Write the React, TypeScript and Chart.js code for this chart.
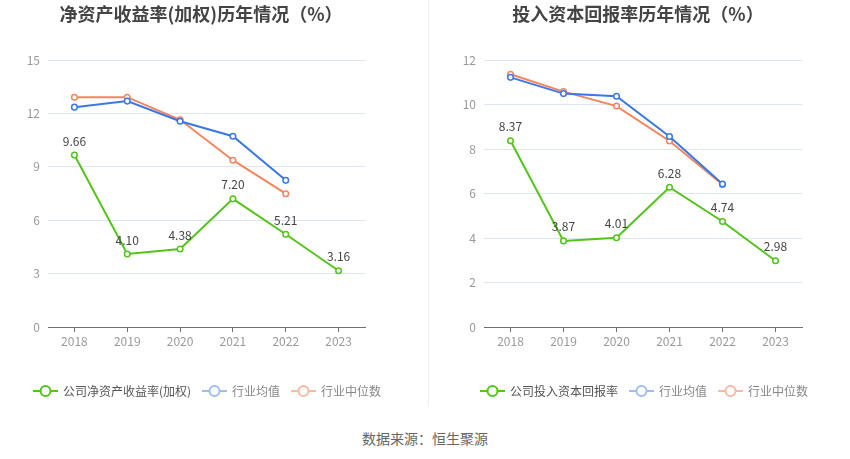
import React, { useEffect, useRef } from "react";
import { Chart, registerables } from "chart.js";

Chart.register(...registerables);

const years = ["2018", "2019", "2020", "2021", "2022", "2023"];

const roeCompany = [9.66, 4.1, 4.38, 7.2, 5.21, 3.16];
const roeIndustryMean = [12.35, 12.69, 11.56, 10.72, 8.24, null];
const roeIndustryMedian = [12.91, 12.91, 11.64, 9.37, 7.49, null];

const roicCompany = [8.37, 3.87, 4.01, 6.28, 4.74, 2.98];
const roicIndustryMean = [11.22, 10.49, 10.37, 8.56, 6.43, null];
const roicIndustryMedian = [11.36, 10.58, 9.93, 8.36, 6.4, null];

const roeLegend = ["公司净资产收益率(加权)", "行业均值", "行业中位数"];
const roicLegend = ["公司投入资本回报率", "行业均值", "行业中位数"];

const GREEN = "#52c41a";
const BLUE = "#3a78e6";
const ORANGE = "#f7845c";
const BLUE_LIGHT = "#9dbdf5";
const ORANGE_LIGHT = "#fbb9a0";
const FONT = "'Noto Sans CJK SC', 'Noto Sans', sans-serif";

const W = 425;
const H = 410;

type Cfg = {
  title: string;
  titleX: number;
  areaLeft: number;
  areaRight: number;
  yMax: number;
  yStep: number;
  company: (number | null)[];
  mean: (number | null)[];
  median: (number | null)[];
  legend: string[];
  legendX: number[];
};

function ChartPanel({ cfg }: { cfg: Cfg }) {
  const ref = useRef<HTMLCanvasElement | null>(null);
  useEffect(() => {
    if (!ref.current) return;
    const overlay = {
      id: "overlay",
      afterDraw(chart: any) {
        const ctx = chart.ctx as CanvasRenderingContext2D;
        ctx.save();
        // title
        ctx.font = `bold 18px ${FONT}`;
        ctx.fillStyle = "#444";
        ctx.textAlign = "center";
        ctx.textBaseline = "middle";
        ctx.fillText(cfg.title, cfg.titleX, 14);
        // data labels for company series
        const meta = chart.getDatasetMeta(0);
        ctx.font = `12px ${FONT}`;
        ctx.fillStyle = "#444";
        meta.data.forEach((pt: any, i: number) => {
          const v = cfg.company[i];
          if (v == null) return;
          ctx.fillText(v.toFixed(2), pt.x, pt.y - 14);
        });
        // legend
        const colors = [GREEN, BLUE_LIGHT, ORANGE_LIGHT];
        const textColors = ["#555", "#888", "#888"];
        const ly = 391;
        cfg.legend.forEach((label, i) => {
          const x = cfg.legendX[i];
          ctx.strokeStyle = colors[i];
          ctx.lineWidth = 2;
          ctx.beginPath();
          ctx.moveTo(x, ly);
          ctx.lineTo(x + 25, ly);
          ctx.stroke();
          ctx.beginPath();
          ctx.arc(x + 12.5, ly, 5, 0, Math.PI * 2);
          ctx.fillStyle = "#fff";
          ctx.fill();
          ctx.stroke();
          ctx.font = `12px ${FONT}`;
          ctx.fillStyle = textColors[i];
          ctx.textAlign = "left";
          ctx.textBaseline = "middle";
          ctx.fillText(label, x + 30, ly);
        });
        ctx.restore();
      },
    };
    const mk = (data: (number | null)[], color: string) => ({
      data,
      borderColor: color,
      backgroundColor: "#fff",
      pointBackgroundColor: "#fff",
      pointBorderColor: color,
      pointBorderWidth: 1.5,
      pointRadius: 2.8,
      borderWidth: 2,
      tension: 0,
      spanGaps: false,
    });
    const chart = new Chart(ref.current, {
      type: "line",
      data: {
        labels: years,
        datasets: [mk(cfg.company, GREEN), mk(cfg.mean, BLUE), mk(cfg.median, ORANGE)],
      },
      options: {
        animation: false,
        responsive: false,
        devicePixelRatio: 1,
        layout: {
          padding: { left: 0, right: W - cfg.areaRight, top: 60, bottom: H - 327 - 30 },
        },
        plugins: {
          legend: { display: false },
          title: { display: false },
          tooltip: { enabled: false },
        },
        scales: {
          x: {
            offset: true,
            afterFit: (s: any) => {
              s.height = 30;
            },
            grid: {
              drawOnChartArea: false,
              drawTicks: true,
              tickLength: 5,
              color: "#6e7079",
              offset: false,
            },
            border: { display: true, color: "#6e7079", width: 1 },
            ticks: { color: "#999", font: { size: 12, family: FONT }, padding: 2 },
          },
          y: {
            min: 0,
            max: cfg.yMax,
            afterFit: (s: any) => {
              s.width = cfg.areaLeft;
            },
            ticks: {
              stepSize: cfg.yStep,
              color: "#999",
              font: { size: 12, family: FONT },
              padding: 8,
            },
            grid: { color: "#e0e6f1", drawTicks: false },
            border: { display: false },
          },
        },
      },
      plugins: [overlay],
    });
    return () => chart.destroy();
  }, [cfg]);
  return <canvas ref={ref} width={W} height={H} style={{ width: W, height: H, display: "block" }} />;
}

const leftCfg: Cfg = {
  title: "净资产收益率(加权)历年情况（%）",
  titleX: 201,
  areaLeft: 48,
  areaRight: 365,
  yMax: 15,
  yStep: 3,
  company: roeCompany,
  mean: roeIndustryMean,
  median: roeIndustryMedian,
  legend: roeLegend,
  legendX: [33, 202, 291],
};

const rightCfg: Cfg = {
  title: "投入资本回报率历年情况（%）",
  titleX: 213,
  areaLeft: 59,
  areaRight: 377,
  yMax: 12,
  yStep: 2,
  company: roicCompany,
  mean: roicIndustryMean,
  median: roicIndustryMedian,
  legend: roicLegend,
  legendX: [55, 204, 293],
};

export default function App() {
  return (
    <div
      style={{
        position: "fixed",
        left: 0,
        top: 0,
        width: 850,
        height: 459,
        background: "#fff",
        overflow: "hidden",
      }}
    >
      <div style={{ position: "absolute", left: 0, top: 0 }}>
        <ChartPanel cfg={leftCfg} />
      </div>
      <div style={{ position: "absolute", left: 425, top: 0 }}>
        <ChartPanel cfg={rightCfg} />
      </div>
      <div
        style={{
          position: "absolute",
          left: 428,
          top: 0,
          width: 1,
          height: 407,
          background: "#eeeeee",
        }}
      />
      <div
        style={{
          position: "absolute",
          left: 0,
          width: 850,
          top: 428,
          textAlign: "center",
          fontFamily: FONT,
          fontSize: 14,
          color: "#666",
          lineHeight: "20px",
        }}
      >
        数据来源：恒生聚源
      </div>
    </div>
  );
}
